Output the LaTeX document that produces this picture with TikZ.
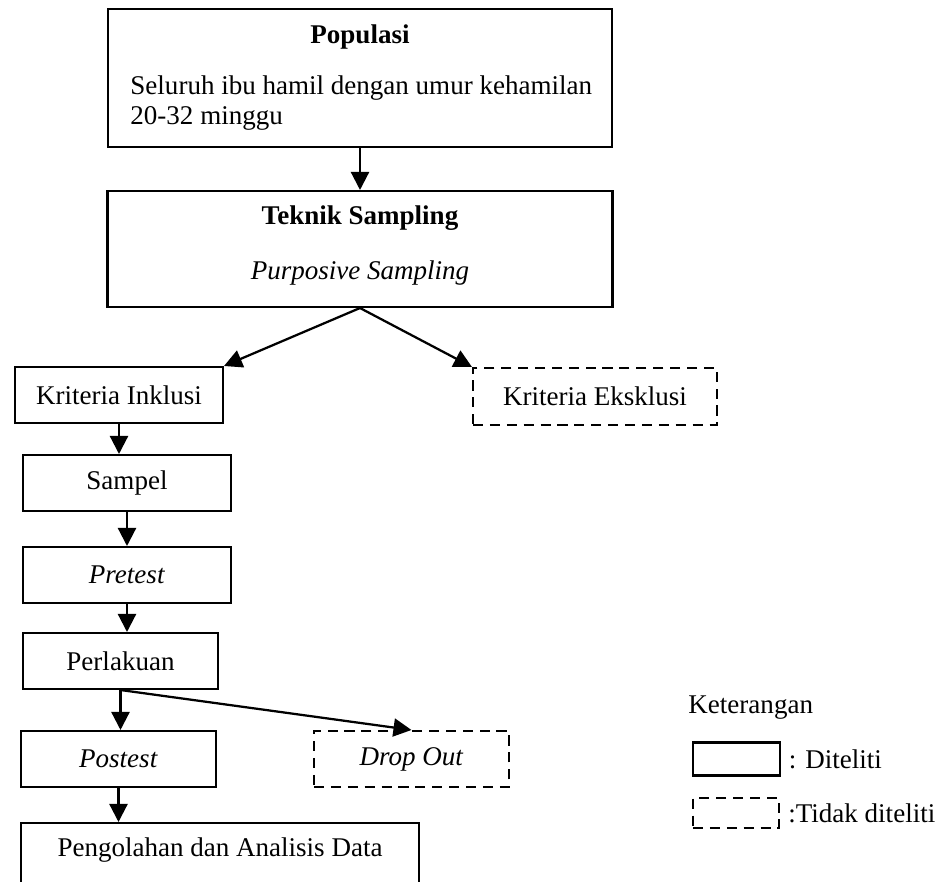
\documentclass[tikz,border=0pt]{standalone}
\usepackage{fontspec}
\setmainfont{Liberation Serif}
\usetikzlibrary{positioning,arrows.meta}

\begin{document}
\begin{tikzpicture}[x=0.444pt,y=-0.444pt,font=\fontsize{12}{13}\selectfont,
  box/.style={draw=black,line width=0.9pt,inner sep=0pt},
  skipbox/.style={box,dash pattern=on 4.5pt off 3pt},
  flow/.style={line width=1pt,-{Triangle[length=8pt,width=8pt]}}]
\def\px{0.444pt}
\clip (0,0) rectangle (941,881);
% top blocks
\node[box,minimum width=504*\px,minimum height=138*\px] (pop) at (360,78) {};
\node (poptitle) at (360,37) {\textbf{Populasi}};
\node[anchor=west,align=left,inner sep=0pt] (popdesc) at (130,103) {Seluruh ibu hamil dengan umur kehamilan\\20-32 minggu};
\node[box,minimum width=505*\px,minimum height=116*\px] (tek) at (360,249) {};
\node (tektitle) at (360,218) {\textbf{Teknik Sampling}};
\node (tekmethod) at (360,273) {\textit{Purposive Sampling}};
% criteria
\node[box,minimum width=208*\px,minimum height=56*\px] (inkl) at (119,395) {Kriteria Inklusi};
\node[skipbox,minimum width=244*\px,minimum height=57*\px] (eks) at (595,396.5) {Kriteria Eksklusi};
% left column
\foreach \nm/\cx/\cy/\w/\txt in {sampel/127/483/208/Sampel, pretest/127/575/208/\textit{Pretest},
  perl/120.5/661/195/Perlakuan, post/118.5/759/195/\textit{Postest}}
  \node[box,minimum width=\w*\px,minimum height=56*\px] (\nm) at (\cx,\cy) {\txt};
\node[skipbox,minimum width=195*\px,minimum height=56*\px] (drop) at (411.5,759) {\textit{Drop Out}};
\node[box,minimum width=398*\px,minimum height=90*\px] (olah) at (220,868) {};
\node (olahtxt) at (220,850) {Pengolahan dan Analisis Data};
% arrows
\draw[flow] (pop.south) -- (tek.north);
\draw[flow] (tek.south) -- (inkl.north east);
\draw[flow] (tek.south) -- (eks.north west);
\draw[flow] (inkl.south) -- (inkl.south |- sampel.north);
\draw[flow] (sampel.south) -- (sampel.south |- pretest.north);
\draw[flow] (pretest.south) -- (pretest.south |- perl.north);
\draw[flow] (perl.south) -- (perl.south |- post.north);
\draw[flow] (perl.south) -- (drop.north);
\draw[flow] (post.south) -- (post.south |- olah.north);
% legend
\node[anchor=west,inner sep=0pt] (legtitle) at (688,708) {Keterangan};
\node[box,minimum width=87*\px,minimum height=33*\px] (legdone) at (736,759) {};
\node[right=3.5pt of legdone,inner sep=0pt] (legdonetxt) {: Diteliti};
\node[skipbox,minimum width=86*\px,minimum height=30*\px] (legskip) at (736,813) {};
\node[right=3.5pt of legskip,inner sep=0pt] (legskiptxt) {:Tidak diteliti};
\end{tikzpicture}
\end{document}
